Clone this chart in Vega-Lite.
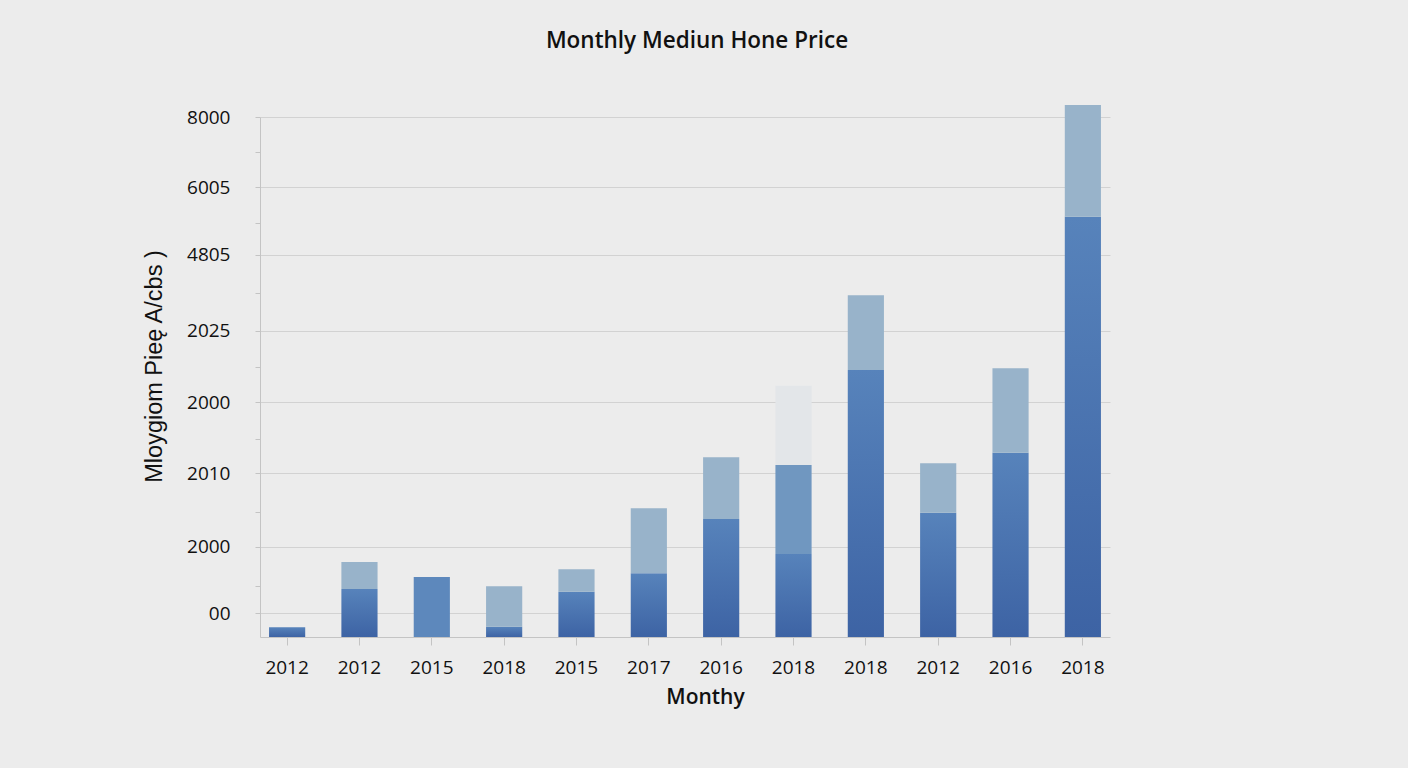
{
  "$schema": "https://vega.github.io/schema/vega-lite/v6.json",
  "autosize": "none",
  "padding": {"left": 260, "top": 117, "right": 298, "bottom": 131},
  "width": 850,
  "height": 520,
  "background": "#ececec",
  "title": {
    "text": "Monthly Mediun Hone Price",
    "font": "Open Sans",
    "fontSize": 22.5,
    "fontWeight": 600,
    "color": "#111111",
    "anchor": "middle",
    "dx": 12,
    "offset": 52
  },
  "config": {
    "view": {"stroke": null},
    "axis": {"labelFont": "Open Sans", "titleFont": "Open Sans"}
  },
  "data": {
    "values": [
      {"id": "01|2012", "tone": "dark", "lo": 0, "hi": 149},
      {"id": "02|2012", "tone": "dark", "lo": 0, "hi": 738},
      {"id": "02|2012", "tone": "light", "lo": 738, "hi": 1154},
      {"id": "03|2015", "tone": "mid", "lo": 0, "hi": 923},
      {"id": "04|2018", "tone": "dark", "lo": 0, "hi": 158},
      {"id": "04|2018", "tone": "light", "lo": 158, "hi": 780},
      {"id": "05|2015", "tone": "dark", "lo": 0, "hi": 697},
      {"id": "05|2015", "tone": "light", "lo": 697, "hi": 1042},
      {"id": "06|2017", "tone": "dark", "lo": 0, "hi": 980},
      {"id": "06|2017", "tone": "light", "lo": 980, "hi": 1980},
      {"id": "07|2016", "tone": "dark", "lo": 0, "hi": 1815},
      {"id": "07|2016", "tone": "light", "lo": 1815, "hi": 2765},
      {"id": "08|2018", "tone": "dark", "lo": 0, "hi": 1277},
      {"id": "08|2018", "tone": "mid2", "lo": 1277, "hi": 2646},
      {"id": "08|2018", "tone": "pale", "lo": 2646, "hi": 3866},
      {"id": "09|2018", "tone": "dark", "lo": 0, "hi": 4108},
      {"id": "09|2018", "tone": "light", "lo": 4108, "hi": 5257},
      {"id": "10|2012", "tone": "dark", "lo": 0, "hi": 1912},
      {"id": "10|2012", "tone": "light", "lo": 1912, "hi": 2672},
      {"id": "11|2016", "tone": "dark", "lo": 0, "hi": 2835},
      {"id": "11|2016", "tone": "light", "lo": 2835, "hi": 4134},
      {"id": "12|2018", "tone": "dark", "lo": 0, "hi": 6466},
      {"id": "12|2018", "tone": "light", "lo": 6466, "hi": 8185}
    ]
  },
  "encoding": {
    "x": {
      "field": "id",
      "type": "nominal",
      "scale": {"paddingInner": 0.5, "paddingOuter": 0.125},
      "axis": {
        "title": "Monthy",
        "labelExpr": "split(datum.value, '|')[1]",
        "labelAngle": 0,
        "labelFontSize": 19,
        "labelColor": "#111111",
        "labelPadding": 13,
        "tickSize": 8,
        "tickColor": "#c4c4c4",
        "domainColor": "#c4c4c4",
        "titleFontSize": 21,
        "titleFontWeight": 600,
        "titleColor": "#111111",
        "titleX": 445,
        "titlePadding": 9
      }
    },
    "y": {
      "field": "lo",
      "type": "quantitative",
      "scale": {"domain": [0, 8000], "nice": false},
      "axis": {
        "title": "Mloygiom Pieę  A/cbs )",
        "titleFont": "Liberation Sans",
        "titleFontSize": 23.5,
        "titleFontWeight": "normal",
        "titleColor": "#111111",
        "titlePadding": 20,
        "titleY": 249,
        "values": [369, 789.5, 1385, 1928.5, 2523, 3046.5, 3615, 4154.5, 4708, 5292.5, 5877, 6369.5, 6923, 7466.5, 8000],
        "labelExpr": "floor(datum.value) != datum.value ? '' : datum.value == 369 ? '00' : datum.value == 1385 ? '2000' : datum.value == 2523 ? '2010' : datum.value == 3615 ? '2000' : datum.value == 4708 ? '2025' : datum.value == 5877 ? '4805' : datum.value == 6923 ? '6005' : '8000'",
        "labelFontSize": 19,
        "labelColor": "#111111",
        "labelPadding": 25,
        "labelFlush": false,
        "grid": true,
        "gridColor": "#d2d2d2",
        "gridWidth": 1.2,
        "gridOpacity": {"condition": {"test": "floor(datum.value) != datum.value", "value": 0}, "value": 1},
        "tickSize": 5,
        "tickColor": "#c4c4c4",
        "domainColor": "#c4c4c4"
      }
    },
    "y2": {"field": "hi"}
  },
  "layer": [
    {
      "transform": [{"filter": "datum.tone == 'dark'"}],
      "mark": {
        "type": "bar",
        "fill": {
          "gradient": "linear",
          "x1": 0, "y1": 0, "x2": 0, "y2": 1,
          "stops": [
            {"offset": 0, "color": "#5783bb"},
            {"offset": 1, "color": "#3d63a4"}
          ]
        }
      }
    },
    {
      "transform": [{"filter": "datum.tone != 'dark'"}],
      "mark": {"type": "bar"},
      "encoding": {
        "color": {
          "field": "tone",
          "type": "nominal",
          "scale": {"domain": ["light", "mid", "mid2", "pale"], "range": ["#98b3ca", "#5d88bc", "#7097c0", "#e3e6e9"]},
          "legend": null
        }
      }
    }
  ]
}
